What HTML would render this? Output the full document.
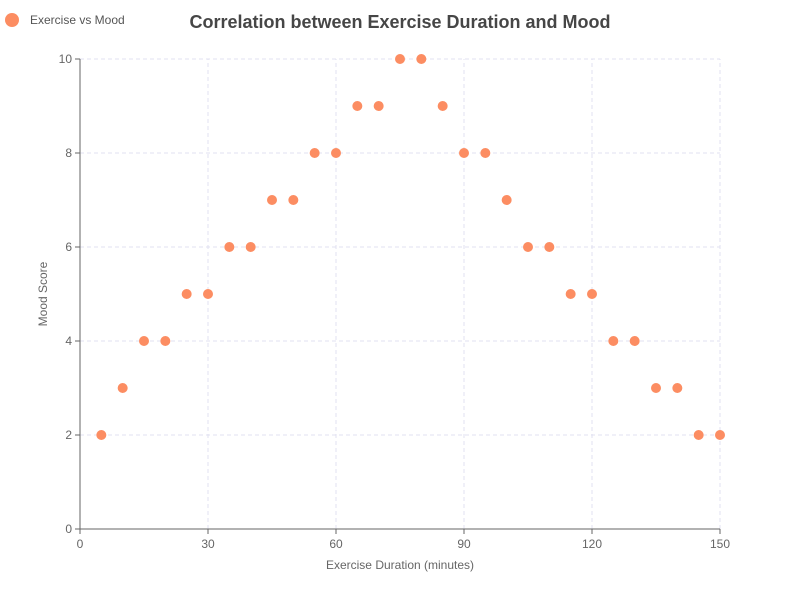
<!DOCTYPE html>
<html><head><meta charset="utf-8"><style>
body{margin:0;background:#fff;}
svg{display:block;font-family:"Liberation Sans",sans-serif;}
</style></head><body>
<svg id="chart" width="800" height="600">
<text x="400" y="28" text-anchor="middle" font-size="18" font-weight="bold" fill="#464646">Correlation between Exercise Duration and Mood</text>
<g>
<circle cx="12" cy="20" r="7" fill="#fc8d62"/>
<text x="30" y="24" font-size="12" fill="#555">Exercise vs Mood</text>
</g>
<g id="grid"></g><g id="axes"></g><g id="pts"></g>
<text x="400" y="569" text-anchor="middle" font-size="12" fill="#666">Exercise Duration (minutes)</text>
<text transform="translate(47,294) rotate(-90)" text-anchor="middle" font-size="12" fill="#666">Mood Score</text>
</svg>
<script>
const durations=[5,10,15,20,25,30,35,40,45,50,55,60,65,70,75,80,85,90,95,100,105,110,115,120,125,130,135,140,145,150];
const moods=[2,3,4,4,5,5,6,6,7,7,8,8,9,9,10,10,9,8,8,7,6,6,5,5,4,4,3,3,2,2];
const xTicks=[0,30,60,90,120,150];
const yTicks=[0,2,4,6,8,10];
const ns="http://www.w3.org/2000/svg";
const X=v=>80+v/150*640, Y=v=>529-v/10*470;
function mk(t,a,p){const e=document.createElementNS(ns,t);for(const k in a)e.setAttribute(k,a[k]);p.appendChild(e);return e;}
const g=document.getElementById('grid'),ax=document.getElementById('axes'),pts=document.getElementById('pts');
xTicks.forEach(v=>{
 if(v>0){const l=mk('line',{x1:X(v),x2:X(v),y1:Y(0),y2:Y(10),stroke:'#e0e0f0','stroke-dasharray':'4,3'},g);
 
 }
 const tk=mk('line',{x1:X(v),x2:X(v),y1:529,y2:534,stroke:'#666'},ax);
 
 
 const t=mk('text',{x:X(v),y:548,'text-anchor':'middle','font-size':12,fill:'#666'},ax);t.textContent=v;
 
 
});
yTicks.forEach(v=>{
 if(v>0){const l=mk('line',{x1:X(0),x2:X(150),y1:Y(v),y2:Y(v),stroke:'#e0e0f0','stroke-dasharray':'4,3'},g);
 
 }
 const tk=mk('line',{x1:75,x2:80,y1:Y(v),y2:Y(v),stroke:'#666'},ax);
 
 
 const t=mk('text',{x:72,y:Y(v)+4,'text-anchor':'end','font-size':12,fill:'#666'},ax);t.textContent=v;
 
 
});
const xa=mk('line',{x1:80,x2:720,y1:529,y2:529,stroke:'#666'},ax);


const ya=mk('line',{x1:80,x2:80,y1:59,y2:529,stroke:'#666'},ax);


durations.forEach((d,i)=>{
 const c=mk('circle',{cx:X(d),cy:Y(moods[i]),r:5,fill:'#fc8d62'},pts);
 
 
});
</script>
</body></html>
